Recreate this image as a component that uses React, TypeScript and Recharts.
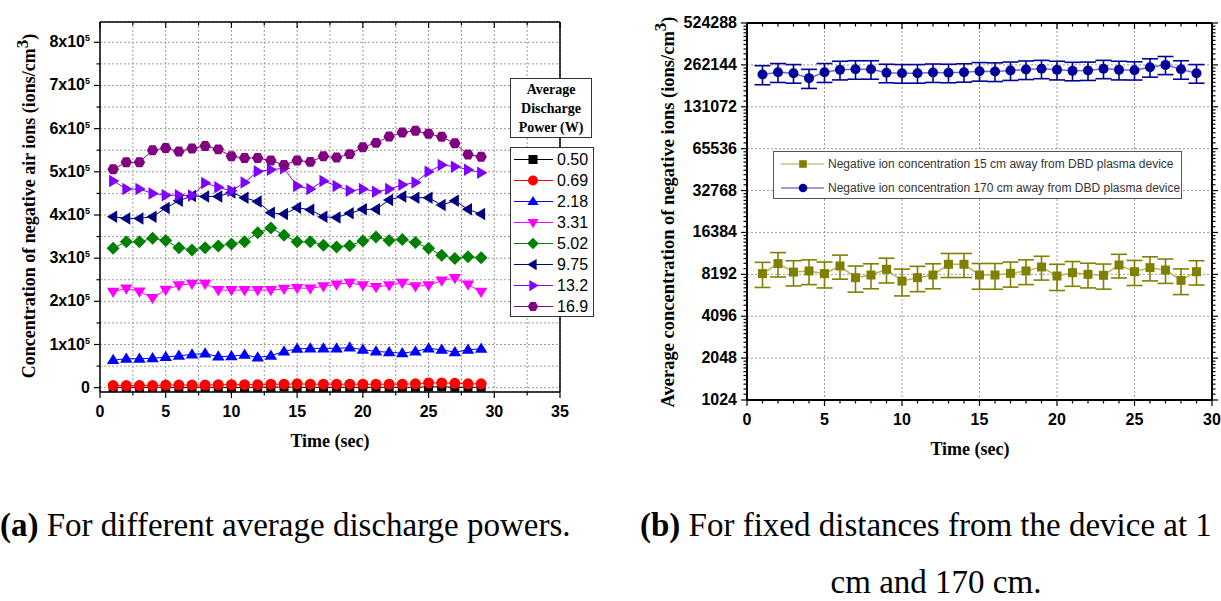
import React from 'react';
import { LineChart, Line, XAxis, YAxis, CartesianGrid, ErrorBar } from 'recharts';

// time axis (sec)
const times = [1, 2, 3, 4, 5, 6, 7, 8, 9, 10, 11, 12, 13, 14, 15, 16, 17, 18, 19, 20, 21, 22, 23, 24, 25, 26, 27, 28, 29];

// panel (a): concentration in units of 10^5 ions/cm3, one array per discharge power
const p050 = [0.0, 0.01, 0.0, 0.01, 0.01, 0.0, 0.01, 0.01, 0.01, 0.0, 0.01, 0.01, 0.01, 0.02, 0.01, 0.01, 0.01, 0.01, 0.01, 0.01, 0.01, 0.01, 0.01, 0.01, 0.02, 0.02, 0.01, 0.01, 0.01];
const p069 = [0.05, 0.05, 0.05, 0.05, 0.06, 0.06, 0.06, 0.06, 0.07, 0.07, 0.07, 0.07, 0.08, 0.08, 0.09, 0.08, 0.08, 0.08, 0.08, 0.08, 0.08, 0.08, 0.08, 0.09, 0.11, 0.11, 0.1, 0.09, 0.09];
const p218 = [0.64, 0.67, 0.67, 0.68, 0.71, 0.74, 0.77, 0.79, 0.72, 0.73, 0.76, 0.7, 0.74, 0.84, 0.9, 0.91, 0.91, 0.91, 0.93, 0.88, 0.84, 0.82, 0.8, 0.84, 0.91, 0.88, 0.82, 0.88, 0.9];
const p331 = [2.22, 2.3, 2.23, 2.08, 2.27, 2.37, 2.41, 2.41, 2.26, 2.26, 2.26, 2.26, 2.26, 2.29, 2.31, 2.3, 2.35, 2.39, 2.43, 2.37, 2.33, 2.37, 2.43, 2.35, 2.37, 2.48, 2.54, 2.39, 2.22];
const p502 = [3.23, 3.38, 3.38, 3.46, 3.41, 3.24, 3.19, 3.24, 3.28, 3.33, 3.38, 3.59, 3.7, 3.53, 3.38, 3.38, 3.3, 3.26, 3.29, 3.4, 3.49, 3.41, 3.43, 3.36, 3.23, 3.07, 2.99, 3.03, 3.01];
const p975 = [3.96, 3.92, 3.92, 3.96, 4.16, 4.33, 4.44, 4.43, 4.43, 4.52, 4.4, 4.31, 4.05, 4.02, 4.17, 4.12, 3.96, 3.94, 4.04, 4.13, 4.13, 4.35, 4.43, 4.4, 4.4, 4.23, 4.33, 4.13, 4.02];
const p132 = [4.79, 4.6, 4.6, 4.5, 4.46, 4.46, 4.45, 4.74, 4.64, 4.56, 4.75, 5.01, 5.05, 5.08, 4.67, 4.6, 4.79, 4.67, 4.56, 4.6, 4.54, 4.6, 4.7, 4.75, 5.0, 5.16, 5.12, 5.05, 4.98];
const p169 = [5.06, 5.22, 5.22, 5.5, 5.55, 5.47, 5.54, 5.6, 5.52, 5.36, 5.32, 5.32, 5.26, 5.16, 5.26, 5.23, 5.36, 5.33, 5.41, 5.57, 5.67, 5.82, 5.91, 5.95, 5.88, 5.81, 5.66, 5.4, 5.35];

const powerNames = ['0.50', '0.69', '2.18', '3.31', '5.02', '9.75', '13.2', '16.9'];
const powerValues = [p050, p069, p218, p331, p502, p975, p132, p169];
const powerColors = ['#000000', '#ff0000', '#0000ff', '#ff00ff', '#008000', '#000080', '#8000ff', '#800080'];
const powerShapes = ['square', 'circle', 'up', 'down', 'diamond', 'left', 'right', 'hex'];

const aYTicks = [0, 0.5, 1, 1.5, 2, 2.5, 3, 3.5, 4, 4.5, 5, 5.5, 6, 6.5, 7, 7.5, 8];
const aYLabels = [0, 1, 2, 3, 4, 5, 6, 7, 8];
const aXTicks = [0, 2.5, 5, 7.5, 10, 12.5, 15, 17.5, 20, 22.5, 25, 27.5, 30, 32.5, 35];
const aXLabels = [0, 5, 10, 15, 20, 25, 30, 35];

// panel (b): average concentration (ions/cm3) with error bars
const near15 = [8290, 9790, 8510, 8660, 8290, 9410, 7750, 8100, 8900, 7330, 7750, 8100, 9670, 9670, 8100, 8100, 8330, 8660, 9250, 7970, 8420, 8192, 8060, 9560, 8560, 9150, 8800, 7410, 8560];
const near15Err = [1700, 1950, 1750, 1750, 1750, 1850, 1650, 1650, 1800, 1600, 1600, 1650, 1900, 1900, 1700, 1700, 1700, 1750, 1800, 1700, 1700, 1650, 1650, 1850, 1750, 1800, 1750, 1550, 1700];
const far170 = [223700, 232000, 228600, 210500, 232000, 241400, 243800, 243800, 230000, 228600, 228600, 231000, 230000, 232000, 236300, 235000, 238700, 242700, 245600, 241400, 237500, 238700, 245600, 241400, 240000, 252000, 262144, 243800, 228600];
const far170Err = [35000, 36000, 35000, 33000, 36000, 37000, 37000, 37000, 35000, 35000, 35000, 35000, 35000, 35000, 36000, 36000, 36000, 37000, 37000, 37000, 36000, 36000, 37000, 37000, 36000, 38000, 39000, 37000, 35000];
const bNames = [
  'Negative ion concentration 15 cm away from DBD plasma device',
  'Negative ion concentration 170 cm away from DBD plasma device',
];

const bYLabels = [1024, 2048, 4096, 8192, 16384, 32768, 65536, 131072, 262144, 524288];
const bXLabels = [0, 5, 10, 15, 20, 25, 30];

const bYMinor: number[] = [];
for (let i = 0; i < bYLabels.length - 1; i++) {
  for (let k = 1; k < 10; k++) bYMinor.push(bYLabels[i] * (1 + k / 10));
}
const bYTicks = [...bYLabels, ...bYMinor].sort((a, b) => a - b);
const bXTicks: number[] = [];
for (let t = 0; t <= 30; t++) bXTicks.push(t);

const dataA = times.map((t, i) => {
  const row: any = { t };
  powerValues.forEach((arr, j) => (row['s' + j] = arr[i]));
  return row;
});
const dataB = times.map((t, i) => ({
  t,
  near: near15[i],
  nearErr: near15Err[i],
  far: far170[i],
  farErr: far170Err[i],
}));

const SANS = '"Liberation Sans", Arial, sans-serif';
const SERIF = '"Liberation Serif", "Times New Roman", serif';

function Marker({ shape, cx, cy, color, s = 5 }: any) {
  if (cx == null || cy == null) return null;
  switch (shape) {
    case 'square':
      return <rect x={cx - s} y={cy - s} width={2 * s} height={2 * s} fill={color} />;
    case 'circle':
      return <circle cx={cx} cy={cy} r={s + 0.5} fill={color} />;
    case 'up':
      return <polygon points={`${cx},${cy - s * 1.25} ${cx - s * 1.25},${cy + s * 0.8} ${cx + s * 1.25},${cy + s * 0.8}`} fill={color} />;
    case 'down':
      return <polygon points={`${cx},${cy + s * 1.25} ${cx - s * 1.25},${cy - s * 0.8} ${cx + s * 1.25},${cy - s * 0.8}`} fill={color} />;
    case 'diamond':
      return <polygon points={`${cx},${cy - s * 1.3} ${cx + s * 1.3},${cy} ${cx},${cy + s * 1.3} ${cx - s * 1.3},${cy}`} fill={color} />;
    case 'left':
      return <polygon points={`${cx - s * 1.25},${cy} ${cx + s * 0.8},${cy - s * 1.25} ${cx + s * 0.8},${cy + s * 1.25}`} fill={color} />;
    case 'right':
      return <polygon points={`${cx + s * 1.25},${cy} ${cx - s * 0.8},${cy - s * 1.25} ${cx - s * 0.8},${cy + s * 1.25}`} fill={color} />;
    default: {
      const r = s * 1.15;
      const pts = [0, 1, 2, 3, 4, 5]
        .map((k) => {
          const a = (Math.PI / 3) * k;
          return `${cx + r * Math.cos(a)},${cy + r * Math.sin(a)}`;
        })
        .join(' ');
      return <polygon points={pts} fill={color} />;
    }
  }
}

function AxisTick(props: any) {
  const { x, y, payload, side, majors, label, fontSize = 15 } = props;
  const v = payload.value;
  const major = majors.includes(v);
  const L = major ? 6 : 3.5;
  let line = null;
  let text = null;
  if (side === 'left') {
    line = <line x1={x - L} x2={x} y1={y} y2={y} stroke="#000" strokeWidth={1.2} />;
    if (major && label)
      text = (
        <text x={x - 10} y={y + 5} textAnchor="end" fontFamily={SANS} fontWeight="bold" fontSize={fontSize} fill="#000">
          {label(v)}
        </text>
      );
  } else if (side === 'right') {
    line = <line x1={x} x2={x + L} y1={y} y2={y} stroke="#000" strokeWidth={1.2} />;
  } else if (side === 'bottom') {
    line = <line x1={x} x2={x} y1={y} y2={y + L} stroke="#000" strokeWidth={1.2} />;
    if (major && label)
      text = (
        <text x={x} y={y + 25} textAnchor="middle" fontFamily={SANS} fontWeight="bold" fontSize={fontSize} fill="#000">
          {label(v)}
        </text>
      );
  } else {
    line = <line x1={x} x2={x} y1={y} y2={y + L} stroke="#000" strokeWidth={1.2} />;
  }
  return (
    <g>
      {line}
      {text}
    </g>
  );
}

const labelPow = (v: number) =>
  v === 0 ? (
    '0'
  ) : (
    <>
      {`${v}x10`}
      <tspan dy={-6} fontSize={9}>
        5
      </tspan>
    </>
  );
const labelNum = (v: number) => String(v);

function PanelA() {
  const axisLine = { stroke: '#000', strokeWidth: 1.5 };
  return (
    <LineChart width={620} height={470} data={dataA} margin={{ top: 12, right: 50, bottom: 30, left: 0 }}>
      <CartesianGrid xAxisId="b" yAxisId="l" stroke="#9a9a9a" strokeDasharray="2 2" />
      <XAxis xAxisId="b" dataKey="t" type="number" domain={[0, 35]} ticks={aXTicks} height={48} tickSize={0} tickMargin={0}
        axisLine={axisLine} tickLine={false} interval={0}
        tick={<AxisTick side="bottom" majors={aXLabels} label={labelNum} fontSize={16} />} />
      <XAxis xAxisId="top" orientation="top" dataKey="t" type="number" domain={[0, 35]} ticks={aXTicks} height={10} tickSize={0} tickMargin={0}
        axisLine={axisLine} tickLine={false} interval={0}
        tick={<AxisTick side="top" majors={aXLabels} />} />
      <YAxis yAxisId="l" type="number" domain={[-0.1, 8.47]} ticks={aYTicks} width={100} tickSize={0} tickMargin={0}
        axisLine={axisLine} tickLine={false} interval={0}
        tick={<AxisTick side="left" majors={aYLabels} label={labelPow} fontSize={16} />} />
      <YAxis yAxisId="r" orientation="right" type="number" domain={[-0.1, 8.47]} ticks={aYTicks} width={10} tickSize={0} tickMargin={0}
        axisLine={axisLine} tickLine={false} interval={0}
        tick={<AxisTick side="right" majors={aYLabels} />} />
      {powerNames.map((name, j) => (
        <Line
          key={name}
          xAxisId="b"
          yAxisId="l"
          type="linear"
          dataKey={'s' + j}
          name={name}
          stroke={powerColors[j]}
          strokeWidth={1}
          isAnimationActive={false}
          activeDot={false}
          dot={(p: any) => <Marker key={p.index} shape={powerShapes[j]} cx={p.cx} cy={p.cy} color={powerColors[j]} s={j === 0 ? 4.5 : 5} />}
        />
      ))}
    </LineChart>
  );
}

function PanelB() {
  const axisLine = { stroke: '#000', strokeWidth: 2 };
  return (
    <LineChart width={601} height={470} data={dataB} margin={{ top: 13, right: 0, bottom: 30, left: 0 }}>
      <CartesianGrid xAxisId="b" yAxisId="l" stroke="#9a9a9a" strokeDasharray="2 2"
        horizontalValues={bYLabels.slice(1, -1)} verticalValues={[5, 10, 15, 20, 25]} />
      <XAxis xAxisId="b" dataKey="t" type="number" domain={[0, 30]} ticks={bXTicks} height={40} tickSize={0} tickMargin={0}
        axisLine={axisLine} tickLine={false} interval={0}
        tick={<AxisTick side="bottom" majors={bXLabels} label={labelNum} fontSize={16} />} />
      <XAxis xAxisId="top" orientation="top" dataKey="t" type="number" domain={[0, 30]} ticks={bXTicks} height={10} tickSize={0} tickMargin={0}
        axisLine={axisLine} tickLine={false} interval={0}
        tick={<AxisTick side="top" majors={bXLabels} />} />
      <YAxis yAxisId="l" scale="log" type="number" domain={[1024, 524288]} ticks={bYTicks} width={127} tickSize={0} tickMargin={0}
        axisLine={axisLine} tickLine={false} interval={0} allowDataOverflow
        tick={<AxisTick side="left" majors={bYLabels} label={labelNum} fontSize={16} />} />
      <YAxis yAxisId="r" orientation="right" scale="log" type="number" domain={[1024, 524288]} ticks={bYTicks} width={9} tickSize={0} tickMargin={0}
        axisLine={axisLine} tickLine={false} interval={0} allowDataOverflow
        tick={<AxisTick side="right" majors={bYLabels} />} />
      <Line xAxisId="b" yAxisId="l" type="linear" dataKey="near" name={bNames[0]} stroke="#b4b45a" strokeWidth={1.5}
        isAnimationActive={false} activeDot={false}
        dot={(p: any) => <Marker key={p.index} shape="square" cx={p.cx} cy={p.cy} color="#808000" s={4.5} />}>
        <ErrorBar dataKey="nearErr" width={8} strokeWidth={1.6} stroke="#808000" direction="y" isAnimationActive={false} />
      </Line>
      <Line xAxisId="b" yAxisId="l" type="linear" dataKey="far" name={bNames[1]} stroke="#6b6bd6" strokeWidth={1.5}
        isAnimationActive={false} activeDot={false}
        dot={(p: any) => <Marker key={p.index} shape="circle" cx={p.cx} cy={p.cy} color="#000099" s={4.5} />}>
        <ErrorBar dataKey="farErr" width={8} strokeWidth={1.6} stroke="#000099" direction="y" isAnimationActive={false} />
      </Line>
    </LineChart>
  );
}

function LegendA() {
  return (
    <>
      <div style={{ position: 'absolute', left: 510, top: 78, width: 80, height: 57, border: '1px solid #333', background: '#fff',
        fontFamily: SERIF, fontWeight: 'bold', fontSize: 14, lineHeight: '19px', textAlign: 'center', paddingTop: 1 }}>
        Average<br />Discharge<br />Power (W)
      </div>
      <div style={{ position: 'absolute', left: 510, top: 147, width: 82, height: 168, border: '1px solid #333', background: '#fff' }}>
        {powerNames.map((name, j) => (
          <div key={name} style={{ position: 'absolute', left: 0, top: 1 + j * 21, height: 21, width: 82 }}>
            <svg width={46} height={21} style={{ position: 'absolute', left: 0, top: 0 }}>
              <line x1={3} x2={42} y1={10.5} y2={10.5} stroke={powerColors[j]} strokeWidth={1} />
              <Marker shape={powerShapes[j]} cx={22} cy={10.5} color={powerColors[j]} s={4.5} />
            </svg>
            <span style={{ position: 'absolute', left: 46, top: 1, fontFamily: SANS, fontSize: 16, lineHeight: '19px' }}>{name}</span>
          </div>
        ))}
      </div>
    </>
  );
}

function LegendB() {
  const cols = [
    { line: '#a8a850', mark: '#808000', shape: 'square' },
    { line: '#3a3ac8', mark: '#000099', shape: 'circle' },
  ];
  return (
    <div style={{ position: 'absolute', left: 773, top: 151, width: 407, height: 46, border: '1px solid #555', background: '#fff' }}>
      {bNames.map((name, j) => (
        <div key={name} style={{ position: 'absolute', left: 0, top: 1 + j * 24, height: 22, width: 407 }}>
          <svg width={54} height={22} style={{ position: 'absolute', left: 0, top: 0 }}>
            <line x1={7} x2={50} y1={11} y2={11} stroke={cols[j].line} strokeWidth={1.2} />
            <Marker shape={cols[j].shape} cx={29} cy={11} color={cols[j].mark} s={3.8} />
          </svg>
          <span style={{ position: 'absolute', left: 54, top: 3, fontFamily: SANS, fontSize: 12, color: '#333', lineHeight: '16px', whiteSpace: 'nowrap' }}>
            {name}
          </span>
        </div>
      ))}
    </div>
  );
}

const vTitle = (left: number, top: number, size: number): React.CSSProperties => ({
  position: 'absolute',
  left,
  top,
  transform: 'translate(-50%, -50%) rotate(-90deg)',
  whiteSpace: 'nowrap',
  fontFamily: SERIF,
  fontWeight: 'bold',
  fontSize: size,
});
const hTitle = (left: number, top: number): React.CSSProperties => ({
  position: 'absolute',
  left,
  top,
  transform: 'translate(-50%, -50%)',
  whiteSpace: 'nowrap',
  fontFamily: SERIF,
  fontWeight: 'bold',
  fontSize: 18,
});
const caption: React.CSSProperties = {
  position: 'absolute',
  whiteSpace: 'nowrap',
  fontFamily: SERIF,
  fontSize: 33,
  lineHeight: '36px',
};

export default function App() {
  return (
    <div style={{ position: 'absolute', left: 0, top: 0, width: 1221, height: 601, background: '#fff', overflow: 'hidden' }}>
      <div style={{ position: 'absolute', left: 0, top: 0 }}>
        <PanelA />
      </div>
      <div style={{ position: 'absolute', left: 620, top: 0 }}>
        <PanelB />
      </div>
      <LegendA />
      <LegendB />
      <div style={vTitle(26, 206, 18)}>
        Concentration of negative air ions (ions/cm<sup style={{ fontSize: 17 }}>3</sup>)
      </div>
      <div style={hTitle(330, 441)}>Time (sec)</div>
      <div style={vTitle(665, 212, 18.5)}>
        Average concentration of negative ions (ions/cm<sup style={{ fontSize: 17 }}>3</sup>)
      </div>
      <div style={hTitle(970, 449)}>Time (sec)</div>
      <div style={{ ...caption, left: 0, top: 507 }}>
        <b>(a)</b> For different average discharge powers.
      </div>
      <div style={{ ...caption, left: 640, top: 507 }}>
        <b>(b)</b> For fixed distances from the device at 1
      </div>
      <div style={{ ...caption, left: 936, top: 564, transform: 'translateX(-50%)' }}>cm and 170 cm.</div>
    </div>
  );
}
